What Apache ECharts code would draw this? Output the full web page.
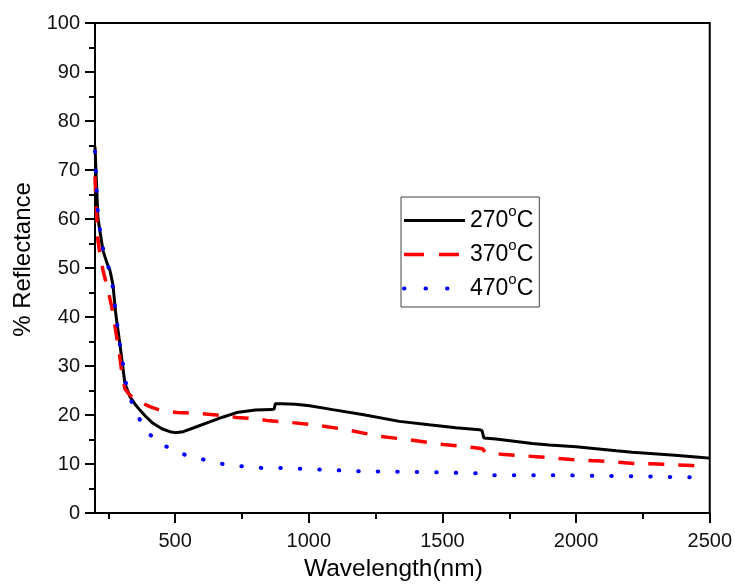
<!DOCTYPE html>
<html>
<head>
<meta charset="utf-8">
<script src="https://cdn.jsdelivr.net/npm/echarts@6/dist/echarts.min.js"></script>
<style>html,body{margin:0;padding:0;background:#fff}#c{width:735px;height:587px}</style>
</head>
<body>
<div id="c"></div>
<script>
const seriesNames = ['270°C', '370°C', '470°C'];
const xMajorTicks = [500, 1000, 1500, 2000, 2500];
const xMinorTicks = [250, 750, 1250, 1750, 2250];

const wl270 = [200, 205, 211, 220, 230, 245, 256, 267, 278, 293, 312, 331, 350, 368, 390, 417, 450, 480, 500, 530, 570, 629, 680, 730, 800, 861, 870, 875, 900, 950, 1003, 1089, 1200, 1339, 1450, 1550, 1638, 1648, 1655, 1700, 1836, 1900, 2000, 2150, 2210, 2370, 2460, 2500];
const r270  = [74.8, 68, 60.2, 57, 53.5, 51, 49.5, 46.6, 40.5, 34.5, 26.4, 23.7, 22.2, 21, 19.7, 18.3, 17.2, 16.6, 16.4, 16.6, 17.4, 18.6, 19.6, 20.5, 21.0, 21.1, 21.2, 22.3, 22.3, 22.2, 21.9, 21.1, 20.1, 18.7, 18.0, 17.4, 17.0, 16.8, 15.3, 15.1, 14.2, 13.9, 13.5, 12.7, 12.4, 11.8, 11.4, 11.2];

const wl370 = [200, 203, 207, 211, 219, 230, 248, 263, 278, 293, 301, 312, 325, 338, 370, 405, 443, 506, 592, 678, 730, 790, 842, 928, 1021, 1141, 1260, 1380, 1503, 1608, 1650, 1660, 1720, 1850, 1981, 2093, 2216, 2306, 2433, 2480];
const r370  = [68.7, 64, 60, 55.7, 52.5, 49.5, 45.6, 42, 37, 31.8, 28.4, 25.3, 24.4, 23.7, 22.6, 21.7, 21.0, 20.5, 20.3, 19.9, 19.5, 19.3, 18.9, 18.5, 18.0, 17.0, 15.7, 14.9, 14.0, 13.4, 13.1, 12.4, 12.0, 11.5, 10.9, 10.6, 10.1, 10.0, 9.7, 9.5];

const wl470 = [200, 205, 211, 226, 248, 267, 278, 293, 316, 338, 368, 405, 465, 536, 607, 678, 753, 823, 891, 984, 1201, 1500, 1600, 1640, 1656, 1962, 2200, 2433, 2480];
const r470  = [73.8, 67, 61, 54.7, 50.7, 46, 40.5, 34.5, 26.4, 22.5, 19, 16, 13.6, 11.9, 10.9, 10, 9.5, 9.2, 9.2, 9.0, 8.5, 8.3, 8.1, 8.1, 7.7, 7.7, 7.5, 7.3, 7.3];

const pair = (xs, ys) => xs.map((x, i) => [x, ys[i]]);
const FONT = '"Liberation Sans", Arial, sans-serif';
const hidden = {color: 'rgba(0,0,0,0)', borderWidth: 0, opacity: 0};

const chart = echarts.init(document.getElementById('c'), null, {renderer: 'canvas'});
chart.setOption({
  animation: false,
  backgroundColor: '#fff',
  grid: {left: 95, right: 25, top: 23, bottom: 70, show: true, borderColor: '#000', borderWidth: 2, backgroundColor: 'transparent'},
  xAxis: [{
    type: 'value', min: 200, max: 2500, position: 'bottom',
    name: 'Wavelength(nm)', nameLocation: 'middle', nameGap: 44,
    nameTextStyle: {fontSize: 24.5, color: '#000', fontFamily: FONT, padding: [0, 18, 0, 0]},
    axisLine: {show: true, lineStyle: {color: '#000', width: 2}},
    axisTick: {show: true, length: 10, lineStyle: {color: '#000', width: 2}, customValues: xMajorTicks},
    axisLabel: {fontSize: 20, color: '#111', fontFamily: FONT, margin: 18, customValues: xMajorTicks, formatter: v => String(v)},
    splitLine: {show: false}
  }, {
    type: 'value', min: 200, max: 2500, position: 'bottom',
    axisLine: {show: false},
    axisTick: {show: true, length: 6, lineStyle: {color: '#000', width: 2}, customValues: xMinorTicks},
    axisLabel: {show: false},
    splitLine: {show: false}
  }],
  yAxis: {
    type: 'value', min: 0, max: 100, interval: 10,
    name: '% Reflectance', nameLocation: 'middle', nameGap: 60,
    nameTextStyle: {fontSize: 24, color: '#000', fontFamily: FONT, padding: [0, 0, 0, 17]},
    axisLine: {show: true, lineStyle: {color: '#000', width: 2}},
    axisTick: {show: true, length: 10, lineStyle: {color: '#000', width: 2}},
    minorTick: {show: true, splitNumber: 2, length: 6, lineStyle: {color: '#000', width: 2}},
    axisLabel: {fontSize: 20, color: '#111', fontFamily: FONT, margin: 15},
    splitLine: {show: false}
  },
  legend: {
    left: 401, top: 197, orient: 'vertical',
    padding: [7, 6, 7, 1],
    itemWidth: 61, itemHeight: 14, itemGap: 6,
    borderColor: '#444', borderWidth: 1,
    itemStyle: hidden,
    data: [
      {name: seriesNames[0], lineStyle: {width: 3}},
      {name: seriesNames[1], lineStyle: {width: 3.5, type: [20, 15]}},
      {name: seriesNames[2], lineStyle: {width: 4, type: [0.5, 21]}}
    ],
    formatter: n => n.replace('°', '{s|o}'),
    textStyle: {fontSize: 23, color: '#000', fontFamily: FONT,
      rich: {s: {fontSize: 15, fontFamily: FONT, color: '#000', padding: [0, 0, 18, 0]}}}
  },
  series: [
    {name: seriesNames[0], type: 'line', data: pair(wl270, r270), symbol: 'none',
      lineStyle: {color: '#000', width: 3}, itemStyle: {color: '#000'}},
    {name: seriesNames[1], type: 'line', data: pair(wl370, r370), symbol: 'none',
      lineStyle: {color: '#ff0000', width: 3.5, type: [16, 14]}, itemStyle: {color: '#ff0000'}},
    {name: seriesNames[2], type: 'line', data: pair(wl470, r470), symbol: 'none',
      lineStyle: {color: '#0000ff', width: 4, type: [0.5, 19], cap: 'round'}, itemStyle: {color: '#0000ff'}}
  ]
});
</script>
</body>
</html>
